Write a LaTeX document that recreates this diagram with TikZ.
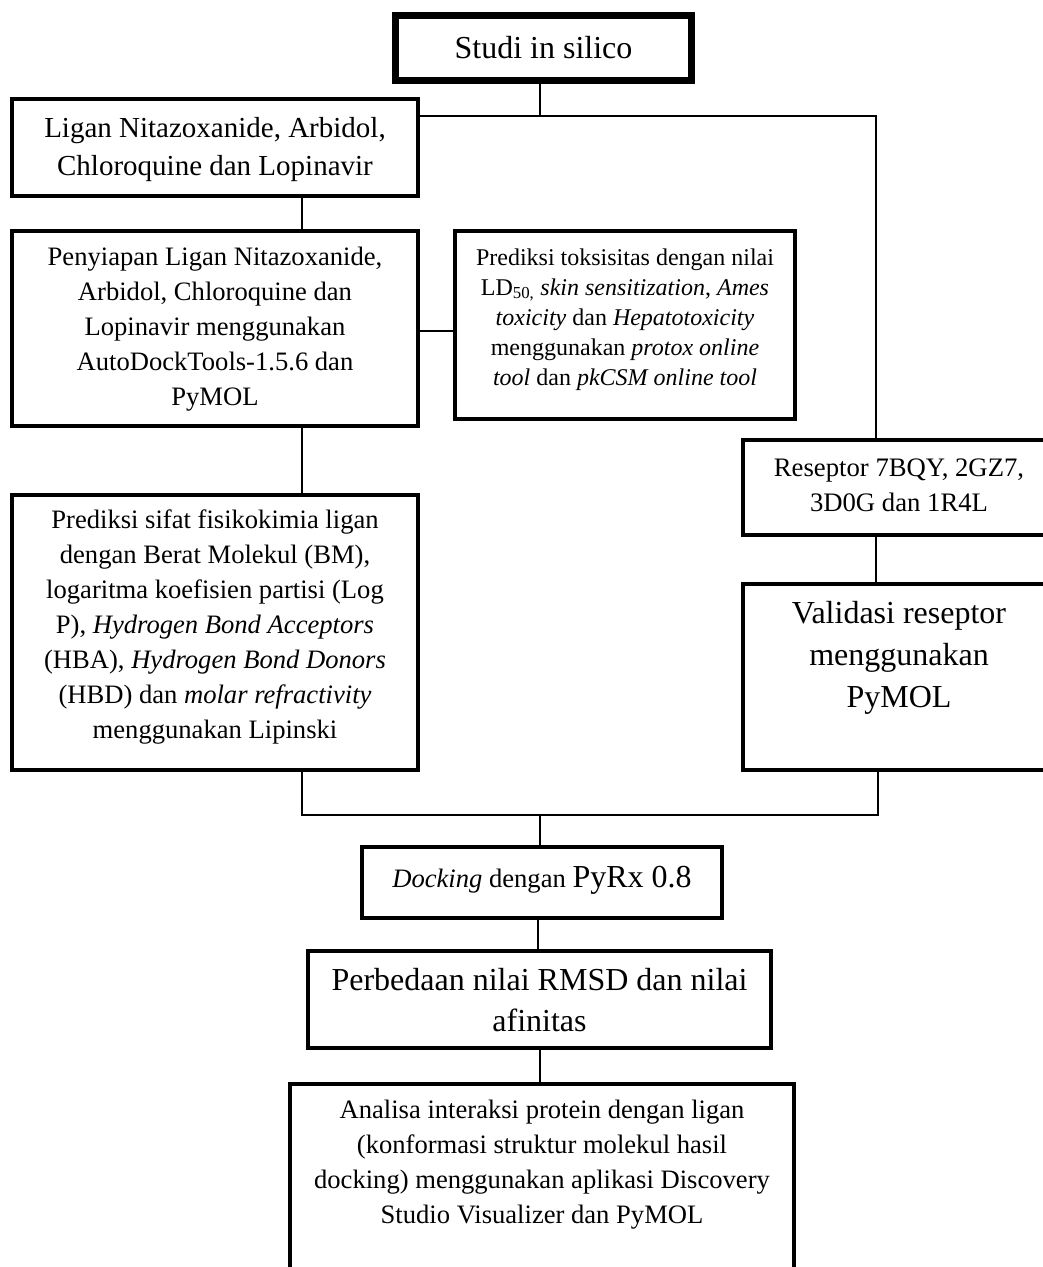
\documentclass[tikz,border=0pt]{standalone}
\usepackage{fontspec}
\setmainfont{Liberation Serif}
% #1 width, #2 height, #3 font size, #4 baselineskip, #5 first-baseline offset, #6 text
\newcommand\bxt[6]{\parbox[c][#2pt][t]{#1pt}{\fontsize{#3pt}{#4pt}\selectfont\centering\rule{0pt}{#5pt}#6\par}}
\begin{document}
\begin{tikzpicture}[x=1pt,y=-1pt,
  box/.style={draw=black, line width=4pt, inner sep=0pt, outer sep=0pt, anchor=north west},
  conn/.style={draw=black, line width=1.3pt}]
\useasboundingbox (0,0) rectangle (1043,1267);
\fill[white] (0,0) rectangle (1043,1267);
\clip (0,0) rectangle (1043,1267);

% boxes
\node[box, line width=7pt] (studi) at (395.5,15.5) {\bxt{296}{65}{32}{38}{42.5}{Studi in silico}};
\node[box] (ligan) at (12,99) {\bxt{406}{97}{29}{38}{38}{Ligan Nitazoxanide, Arbidol,\\ Chloroquine dan Lopinavir}};
\node[box] (pen) at (12,231) {\bxt{406}{195}{26.6}{35}{34.7}{Penyiapan Ligan Nitazoxanide,\\ Arbidol, Chloroquine dan\\ Lopinavir menggunakan\\ AutoDockTools-1.5.6 dan\\ PyMOL}};
\node[box] (toks) at (455,231) {\bxt{340}{188}{24}{30}{34}{Prediksi toksisitas dengan nilai\\ LD\textsubscript{50,} \textit{skin sensitization}, \textit{Ames}\\ \textit{toxicity} dan \textit{Hepatotoxicity}\\ menggunakan \textit{protox online}\\ \textit{tool} dan \textit{pkCSM online tool}}};
\node[box] (sifat) at (12,495) {\bxt{406}{275}{26.6}{35}{33}{Prediksi sifat fisikokimia ligan\\ dengan Berat Molekul (BM),\\ logaritma koefisien partisi (Log\\ P), \textit{Hydrogen Bond Acceptors}\\ (HBA), \textit{Hydrogen Bond Donors}\\ (HBD) dan \textit{molar refractivity}\\ menggunakan Lipinski}};
\node[box] (res) at (743,440) {\bxt{312}{95}{26.7}{35}{36}{Reseptor 7BQY, 2GZ7,\\ 3D0G dan 1R4L}};
\node[box] (val) at (743,584) {\bxt{312}{186}{32}{42}{39}{Validasi reseptor\\ menggunakan\\ PyMOL}};
\node[box] (dock) at (362,847) {\bxt{360}{71}{26.6}{35}{40}{\textit{Docking} dengan {\fontsize{32pt}{38pt}\selectfont PyRx 0.8}}};
\node[box] (perb) at (308,951) {\bxt{463}{97}{32}{41}{39.7}{Perbedaan nilai RMSD dan nilai\\ afinitas}};
\node[box] (ana) at (290,1084) {\bxt{504}{216}{26.6}{35}{34}{Analisa interaksi protein dengan ligan\\ (konformasi struktur molekul hasil\\ docking) menggunakan aplikasi Discovery\\ Studio Visualizer dan PyMOL}};

% connectors
\coordinate (top) at (540,116);
\coordinate (rj) at (876,116);
\coordinate (lx) at (302,0);
\coordinate (py) at (0,331);
\coordinate (bl) at (302,815);
\coordinate (br) at (878,815);
\coordinate (bm) at (540,815);
\coordinate (dx) at (538,0);
\draw[conn] (top |- studi.south) -- (top);
\draw[conn] (ligan.east |- top) -- (rj) -- (rj |- res.north);
\draw[conn] (lx |- ligan.south) -- (lx |- pen.north);
\draw[conn] (pen.east |- py) -- (toks.west |- py);
\draw[conn] (lx |- pen.south) -- (lx |- sifat.north);
\draw[conn] (rj |- res.south) -- (rj |- val.north);
\draw[conn] (bl |- sifat.south) -- (bl) -- (br) -- (br |- val.south);
\draw[conn] (bm) -- (bm |- dock.north);
\draw[conn] (dx |- dock.south) -- (dx |- perb.north);
\draw[conn] (bm |- perb.south) -- (bm |- ana.north);
\end{tikzpicture}
\end{document}
